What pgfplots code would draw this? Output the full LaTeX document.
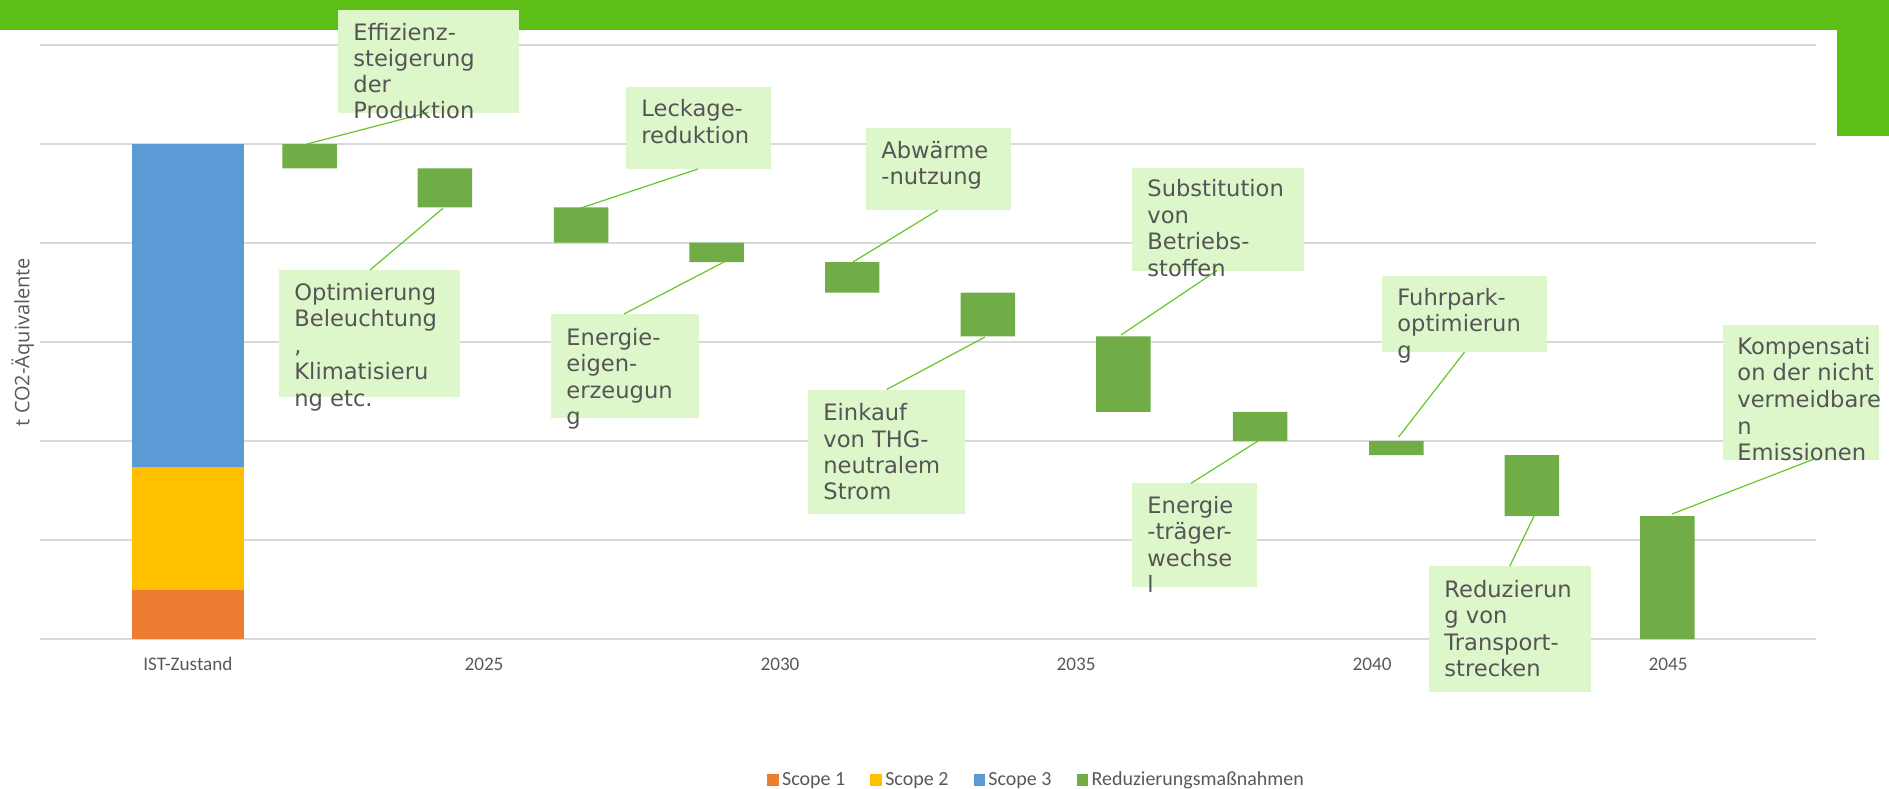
\documentclass[border=0pt]{standalone}
\usepackage{fontspec}
\setmainfont{Carlito}
\newfontfamily\annfont{DejaVu Sans}
\newfontfamily\labfont{Open Sans}
\usepackage{pgfplots}
\pgfplotsset{compat=1.18}
\usepackage{pgfplotstable}

\definecolor{bandg}{RGB}{93,190,22}
\definecolor{barg}{RGB}{112,173,71}
\definecolor{scA}{RGB}{237,125,49}
\definecolor{scB}{RGB}{255,192,0}
\definecolor{scC}{RGB}{91,155,213}
\definecolor{boxg}{RGB}{221,247,203}
\definecolor{conng}{RGB}{102,198,40}
\definecolor{txtg}{RGB}{89,89,89}
\definecolor{anntxt}{RGB}{85,85,85}
\definecolor{gridg}{RGB}{217,217,217}

\tikzset{
  al/.style={anchor=base west, inner sep=0pt, font=\annfont\fontsize{11.3}{13}\selectfont, text=anntxt},
  conn/.style={draw=conng, line width=0.6pt},
}

% x: year position, s1..s3: IST scopes, base: invisible start of a reduction bar, red: reduction
\pgfplotstableread{
x        s1    s2    s3    base   red
2020     0.49  1.25  3.26  0      0
2022.055 0     0     0     4.755  0.245
2024.34  0     0     0     4.36   0.395
2026.64  0     0     0     4.005  0.355
2028.93  0     0     0     3.807  0.198
2031.22  0     0     0     3.50   0.307
2033.51  0     0     0     3.057  0.443
2035.80  0     0     0     2.295  0.762
2038.11  0     0     0     2.0    0.295
2040.41  0     0     0     1.857  0.143
2042.70  0     0     0     1.241  0.616
2044.99  0     0     0     0      1.241
}\datatable

\begin{document}
\begin{tikzpicture}
\useasboundingbox (0,0) rectangle (944.5pt,394pt);
\begin{axis}[
  at={(20pt,74.5pt)}, anchor=south west,
  width=888pt, height=297pt, scale only axis,
  xmin=2017.5, xmax=2047.5, ymin=0, ymax=6,
  ybar stacked,
  axis line style={draw=none},
  ytick={0,1,2,3,4,5,6}, yticklabel=\empty,
  ymajorgrids,
  major grid style={draw=gridg, line width=0.75pt},
  xtick={2020,2025,2030,2035,2040,2045},
  xticklabels={IST-Zustand,2025,2030,2035,2040,2045},
  major tick length=0pt,
  tick style={draw=none},
  xticklabel style={anchor=base, yshift=-15.85pt, font=\fontsize{9.6}{11}\selectfont, text=txtg},
  ylabel={t CO2-Äquivalente},
  every axis y label/.style={at={(rel axis cs:-0.0096,0.5)}, rotate=90, anchor=center,
     font=\labfont\fontsize{10}{12}\selectfont, text=txtg},
  legend image code/.code={\fill[#1] (0pt,-2.9pt) rectangle (5.8pt,2.9pt);},
  legend style={at={(0.4093,-0.2374)}, anchor=west, draw=none, fill=none,
     inner sep=0pt, nodes={inner sep=1.6pt},
     font=\fontsize{10}{12}\selectfont, text=txtg,
     legend columns=-1,
     /tikz/every even column/.append style={column sep=11pt}},
]
\addplot[fill=scA, draw=none, bar width=1.9] table[x=x,y=s1]{\datatable};
\addlegendentry{Scope 1}
\addplot[fill=scB, draw=none, bar width=1.9] table[x=x,y=s2]{\datatable};
\addlegendentry{Scope 2}
\addplot[fill=scC, draw=none, bar width=1.9] table[x=x,y=s3]{\datatable};
\addlegendentry{Scope 3}
\addplot[fill=none, draw=none, bar width=0.92, forget plot] table[x=x,y=base]{\datatable};
\addplot[fill=barg, draw=none, bar width=0.92] table[x=x,y=red]{\datatable};
\addlegendentry{Reduzierungsmaßnahmen}
\end{axis}

% annotation layer, in the pixel units of the reference
\begin{axis}[
  at={(20pt,74.5pt)}, anchor=south west,
  width=888pt, height=297pt, scale only axis,
  xmin=40, xmax=1816, ymin=45, ymax=639, y dir=reverse,
  hide axis, clip=false,
]
\fill[bandg] (axis cs:0,0) rectangle (axis cs:1889,30);
\fill[bandg] (axis cs:1837,0) rectangle (axis cs:1889,136);

% 1
\fill[boxg] (axis cs:338,9.6) rectangle (axis cs:519,112.5);
\draw[conn] (axis cs:428,112.5) -- (axis cs:307,144);
\node[al] at (axis cs:353,40) {Effizienz-};
\node[al] at (axis cs:353,66.3) {steigerung};
\node[al] at (axis cs:353,92.6) {der};
\node[al] at (axis cs:353,118.9) {Produktion};
% 2
\fill[boxg] (axis cs:279,270) rectangle (axis cs:460,396.5);
\draw[conn] (axis cs:370,270) -- (axis cs:443,208.3);
\node[al] at (axis cs:294,300) {Optimierung};
\node[al] at (axis cs:294,326.5) {Beleuchtung};
\node[al] at (axis cs:294,353) {,};
\node[al] at (axis cs:294,379.5) {Klimatisieru};
\node[al] at (axis cs:294,406) {ng etc.};
% 3
\fill[boxg] (axis cs:625.5,87) rectangle (axis cs:770.5,169);
\draw[conn] (axis cs:698,169) -- (axis cs:580,208.3);
\node[al] at (axis cs:641,116.7) {Leckage-};
\node[al] at (axis cs:641,143.2) {reduktion};
% 4
\fill[boxg] (axis cs:551,314) rectangle (axis cs:698.5,418);
\draw[conn] (axis cs:624,314) -- (axis cs:724,262);
\node[al] at (axis cs:566,345) {Energie-};
\node[al] at (axis cs:566,371.5) {eigen-};
\node[al] at (axis cs:566,398) {erzeugun};
\node[al] at (axis cs:566,424.5) {g};
% 5
\fill[boxg] (axis cs:866,128) rectangle (axis cs:1010.7,210);
\draw[conn] (axis cs:938,210) -- (axis cs:853,262);
\node[al] at (axis cs:881,158) {Abwärme};
\node[al] at (axis cs:881,184.5) {-nutzung};
% 6
\fill[boxg] (axis cs:808,389.5) rectangle (axis cs:965,514);
\draw[conn] (axis cs:886.6,389.5) -- (axis cs:985,337);
\node[al] at (axis cs:823,420.7) {Einkauf};
\node[al] at (axis cs:823,447) {von THG-};
\node[al] at (axis cs:823,473.3) {neutralem};
\node[al] at (axis cs:823,499.6) {Strom};
% 7
\fill[boxg] (axis cs:1132,167.5) rectangle (axis cs:1304,270.5);
\draw[conn] (axis cs:1217,270.5) -- (axis cs:1121,335);
\node[al] at (axis cs:1147,196.7) {Substitution};
\node[al] at (axis cs:1147,223) {von};
\node[al] at (axis cs:1147,249.5) {Betriebs-};
\node[al] at (axis cs:1147,276) {stoffen};
% 8
\fill[boxg] (axis cs:1132,483.3) rectangle (axis cs:1257,586.7);
\draw[conn] (axis cs:1191,483.3) -- (axis cs:1258,441);
\node[al] at (axis cs:1147,513.3) {Energie};
\node[al] at (axis cs:1147,539.6) {-träger-};
\node[al] at (axis cs:1147,566) {wechse};
\node[al] at (axis cs:1147,592.3) {l};
% 9
\fill[boxg] (axis cs:1381.5,275.8) rectangle (axis cs:1546.5,352);
\draw[conn] (axis cs:1464.5,352) -- (axis cs:1398.6,437);
\node[al] at (axis cs:1397,305) {Fuhrpark-};
\node[al] at (axis cs:1397,331.5) {optimierun};
\node[al] at (axis cs:1397,358) {g};
% 10
\fill[boxg] (axis cs:1428.5,566.3) rectangle (axis cs:1591,692);
\draw[conn] (axis cs:1509.7,566.3) -- (axis cs:1535,514);
\node[al] at (axis cs:1444,597) {Reduzierun};
\node[al] at (axis cs:1444,623.5) {g von};
\node[al] at (axis cs:1444,650) {Transport-};
\node[al] at (axis cs:1444,676.5) {strecken};
% 11
\fill[boxg] (axis cs:1722.5,325) rectangle (axis cs:1879,459.5);
\draw[conn] (axis cs:1813,459.5) -- (axis cs:1672,514);
\node[al] at (axis cs:1737,354) {Kompensati};
\node[al] at (axis cs:1737,380.7) {on der nicht};
\node[al] at (axis cs:1737,407.3) {vermeidbare};
\node[al] at (axis cs:1737,434) {n};
\node[al] at (axis cs:1737,460.5) {Emissionen};
\end{axis}
\end{tikzpicture}
\end{document}
